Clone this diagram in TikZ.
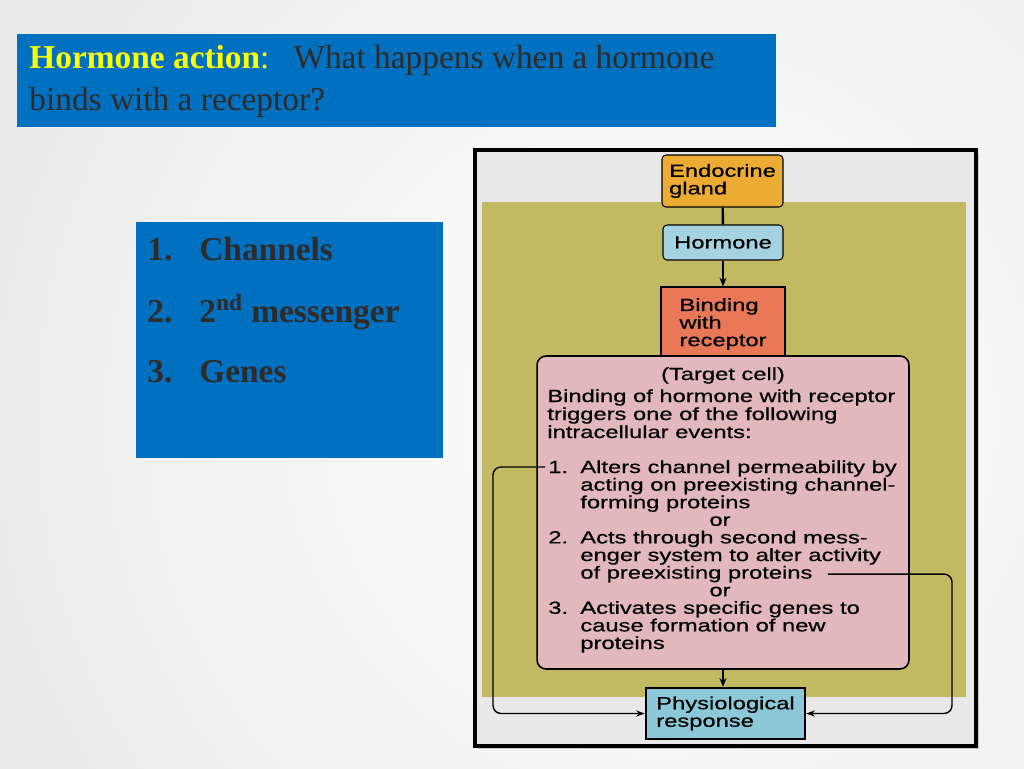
\documentclass[tikz,border=0pt]{standalone}
\usepackage{fontspec}
\setmainfont{Liberation Serif}
\newfontfamily\figfont[FakeStretch=1.35,FakeBold=0.6]{Liberation Sans}
\usetikzlibrary{arrows.meta,shadows}
\definecolor{slideblue}{RGB}{0,112,192}
\definecolor{titleyellow}{RGB}{255,255,0}
\definecolor{slidetext}{RGB}{48,42,40}
\definecolor{framegray}{RGB}{232,232,232}
\definecolor{fieldolive}{RGB}{194,186,98}
\definecolor{glandorange}{RGB}{236,172,52}
\definecolor{hormoneblue}{RGB}{165,210,225}
\definecolor{bindred}{RGB}{232,120,88}
\definecolor{targetpink}{RGB}{226,184,188}
\definecolor{physblue}{RGB}{140,200,215}
\newcommand{\figsize}{\figfont\fontsize{10}{10}\selectfont}

\begin{document}
\begin{tikzpicture}[x=0.02cm,y=-0.02cm,
  slidebox/.style={fill=slideblue,inner sep=0pt},
  titletext/.style={font=\fontsize{19}{23}\selectfont,text=slidetext,inner sep=0pt},
  listtext/.style={font=\fontsize{19}{23}\selectfont\bfseries,text=slidetext,inner sep=0pt},
  fig/.style={font=\figsize,inner sep=0pt},
  figbox/.style={draw=black,line width=0.6pt,align=left,font=\figsize,inner sep=0pt},
  joinline/.style={line width=1.4pt},
  arr/.style={-{Stealth[length=5pt,width=4pt]},line width=1.1pt},
  feedback/.style={-{Stealth[length=5pt,width=3.5pt]},line width=0.8pt,rounded corners=0.16cm}]
\useasboundingbox (0,0) rectangle (1024,768);
\fill[black!9] (0,0) rectangle (1024,768);
\begin{scope}
\clip (0,0) rectangle (1024,768);
\shade[inner color=white,outer color=black!9] (660,420) circle (820);
\end{scope}

% slide text
\node[slidebox,minimum width=15.18cm,minimum height=1.86cm] (titlebox) at (396.5,80.5) {};
\node[titletext,anchor=base west] (ttl1) at (29,68)
  {\textcolor{titleyellow}{\textbf{Hormone action}:}\hspace{0.72em}What happens when a hormone};
\node[titletext,anchor=base west] (ttl2) at (29,110) {binds with a receptor?};

\node[slidebox,minimum width=6.14cm,minimum height=4.72cm] (listbox) at (289.5,340) {};
\node[listtext,anchor=base west] (n1) at (147,260) {1.};
\node[listtext,anchor=base west] (l1) at (199,260) {Channels};
\node[listtext,anchor=base west] (n2) at (147,322) {2.};
\node[listtext,anchor=base west] (l2) at (199,322) {2\textsuperscript{nd} messenger};
\node[listtext,anchor=base west] (n3) at (147,382) {3.};
\node[listtext,anchor=base west] (l3) at (199,382) {Genes};

% figure
\node[draw=black,line width=1.8pt,fill=framegray,
  drop shadow={opacity=0.35,shadow xshift=0.06cm,shadow yshift=-0.06cm},
  minimum width=10.02cm,minimum height=11.92cm,inner sep=0pt] (frame) at (725.5,448) {};
\node[fill=fieldolive,minimum width=9.68cm,minimum height=9.9cm,inner sep=0pt] (field) at (724,449.5) {};

\node[figbox,fill=glandorange,rounded corners=0.08cm,
  minimum width=2.42cm,minimum height=1.04cm] (gland) at (722.5,181) {Endocrine\\gland};
\node[figbox,fill=hormoneblue,rounded corners=0.08cm,
  minimum width=2.4cm,minimum height=0.7cm] (hormone) at (723,242.5) {Hormone};
\node[figbox,fill=bindred,minimum width=2.48cm,minimum height=1.48cm] (binding) at (723,324)
  {Binding\\with\\receptor};
\node[draw=black,line width=0.9pt,fill=targetpink,rounded corners=0.18cm,
  minimum width=7.44cm,minimum height=6.26cm,inner sep=0pt] (target) at (723,512.5) {};
\node[figbox,fill=physblue,line width=1.3pt,
  minimum width=3.18cm,minimum height=1.02cm] (phys) at (725.5,713.5) {Physiological\\response};

\node[fig,anchor=base] (tgtname) at (723,380) {(Target cell)};
\node[fig,anchor=base west] (intro1) at (547,402) {Binding of hormone with receptor};
\node[fig,anchor=base west] (intro2) at (547,420) {triggers one of the following};
\node[fig,anchor=base west] (intro3) at (547,438) {intracellular events:};

\node[fig,anchor=base west] (ev1num) at (548,473) {1.};
\node[fig,anchor=base west] (ev1a) at (580,473) {Alters channel permeability by};
\node[fig,anchor=base west] (ev1b) at (580,490.6) {acting on preexisting channel-};
\node[fig,anchor=base west] (ev1c) at (580,508.2) {forming proteins};
\node[fig,anchor=base] (or1) at (720,525.8) {or};
\node[fig,anchor=base west] (ev2num) at (548,543.4) {2.};
\node[fig,anchor=base west] (ev2a) at (580,543.4) {Acts through second mess-};
\node[fig,anchor=base west] (ev2b) at (580,561) {enger system to alter activity};
\node[fig,anchor=base west] (ev2c) at (580,578.6) {of preexisting proteins};
\node[fig,anchor=base] (or2) at (720,596.2) {or};
\node[fig,anchor=base west] (ev3num) at (548,613.8) {3.};
\node[fig,anchor=base west] (ev3a) at (580,613.8) {Activates specific genes to};
\node[fig,anchor=base west] (ev3b) at (580,631.4) {cause formation of new};
\node[fig,anchor=base west] (ev3c) at (580,649) {proteins};

% connectors
\coordinate (lbend) at (493,0);
\coordinate (rbend) at (952,0);
\draw[joinline] (gland) -- (hormone);
\draw[arr] (hormone) -- (binding);
\draw[arr] (target.south) -- (target.south |- phys.north);
\draw[feedback] ([xshift=-0.06cm]ev1num.west) -- (lbend |- ev1num.west)
  -- (lbend |- phys.west) -- (phys.west);
\draw[feedback] ([xshift=0.3cm]ev2c.east) -- (rbend |- ev2c.east)
  -- (rbend |- phys.east) -- (phys.east);
\end{tikzpicture}
\end{document}
